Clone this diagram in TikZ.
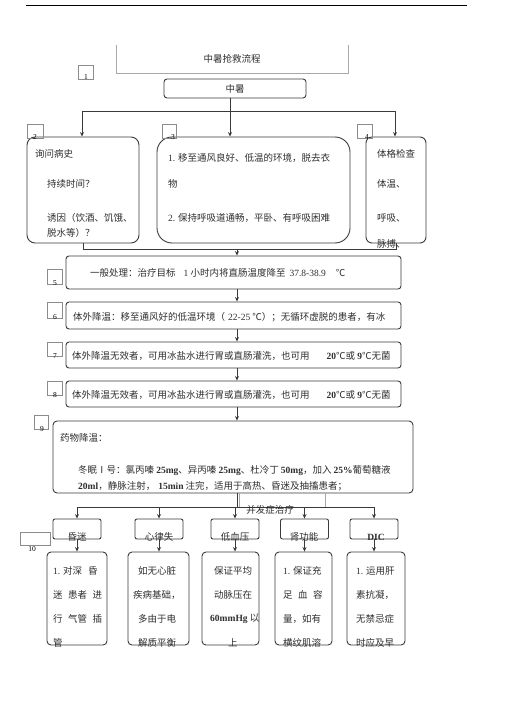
\documentclass[tikz,border=0pt]{standalone}
\usepackage{fontspec}
\setmainfont{Noto Sans CJK SC}
\newfontfamily\latfont{Liberation Serif}
\usetikzlibrary{arrows.meta}
\definecolor{boxline}{HTML}{3A3A3A}
\definecolor{paleline}{HTML}{A8A8A8}
\definecolor{numline}{HTML}{8C8C8C}
\definecolor{inkgray}{HTML}{2E2E2E}
\tikzset{
  box/.style={draw=boxline, line width=0.9pt, rounded corners=3pt, inner sep=0pt, text=inkgray},
  numbox/.style={draw=numline, line width=0.5pt, inner sep=0pt},
  numtxt/.style={inner sep=0pt, font=\latfont\fontsize{7.5}{8}\selectfont, text=black},
  txt/.style={inner sep=0pt, anchor=west, text=inkgray},
  txtc/.style={inner sep=0pt, text=inkgray},
  pale/.style={draw=paleline, line width=0.7pt},
  conn/.style={draw=boxline, line width=0.9pt},
  arr/.style={conn, -{Stealth[length=4.5pt,width=4pt]}},
}
\newcommand{\lat}[1]{{\latfont #1}}
\newcommand{\latb}[1]{{\latfont\bfseries #1}}
\begin{document}
\begin{tikzpicture}[x=1pt, y=-1pt, font=\fontsize{9.5}{11}\selectfont]
\useasboundingbox (0,0) rectangle (505,714);
\draw[line width=1pt] (26,6) -- (467,6);
% title and top box
\draw[pale] (116,45) |- (348,73) -- (348,45);
\node[txtc] (title) at (232,59) {中暑抢救流程};
\node[box, minimum width=142pt, minimum height=19pt] (zs) at (235,88.5) {中暑};
% first row
\node[box, rounded corners=8pt, minimum width=112pt, minimum height=106pt] (b2) at (83,190) {};
\node[box, rounded corners=15pt, minimum width=193pt, minimum height=106pt] (b3) at (253.5,190) {};
\node[box, rounded corners=6pt, minimum width=60pt, minimum height=106pt] (b4) at (396,190) {};
\node[txt] (t2a) at (35,154) {询问病史};
\node[txt] (t2b) at (47,184) {持续时间？};
\node[txt] (t2c) at (47,218) {诱因（饮酒、饥饿、};
\node[txt] (t2d) at (47,233) {脱水等）？};
\node[txt] (t3a) at (168,158) {\lat{1.} 移至通风良好、低温的环境，脱去衣};
\node[txt] (t3b) at (168,184) {物};
\node[txt] (t3c) at (168,218) {\lat{2.} 保持呼吸道通畅，平卧、有呼吸困难};
\node[txt] (t4a) at (377,154) {体格检查};
\node[txt] (t4b) at (377,184) {体温、};
\node[txt] (t4c) at (377,218) {呼吸、};
\node[txt] (t4d) at (377,244) {脉搏、};
% main column
\node[box, minimum width=335pt, minimum height=33pt] (b5) at (233.5,272.5) {};
\node[box, minimum width=335pt, minimum height=27pt] (b6) at (233.5,315.5) {};
\node[box, minimum width=335pt, minimum height=26pt] (b7) at (233.5,355) {};
\node[box, minimum width=335pt, minimum height=26pt] (b8) at (233.5,394) {};
\node[box, rounded corners=4pt, minimum width=360pt, minimum height=72pt] (b9) at (233,457) {};
\node[txt] (t5) at (90,273) {一般处理：治疗目标\hspace{8pt}\lat{1} 小时内将直肠温度降至\hspace{4pt}\lat{37.8-38.9}\hspace{10pt}℃};
\node[txt] (t6) at (73,317) {体外降温：移至通风好的低温环境（\hspace{3pt}\lat{22-25} ℃）；无循环虚脱的患者，有冰};
\node[txt] (t7) at (72,356) {体外降温无效者，可用冰盐水进行胃或直肠灌洗，也可用\hspace{17pt}\latb{20}℃或 \latb{9}℃无菌};
\node[txt] (t8) at (72,395) {体外降温无效者，可用冰盐水进行胃或直肠灌洗，也可用\hspace{17pt}\latb{20}℃或 \latb{9}℃无菌};
\node[txt] (t9a) at (60,438) {药物降温：};
\node[txt] (t9b) at (78,471) {冬眠Ⅰ号：氯丙嗪 \latb{25mg}、异丙嗪 \latb{25mg}、杜冷丁 \latb{50mg}，加入 \latb{25\%}葡萄糖液};
\node[txt] (t9c) at (78,486) {\latb{20ml}，静脉注射，\hspace{3pt}\latb{15min} 注完，适用于高热、昏迷及抽搐患者；};
% complications
\node[box, rounded corners=2pt, minimum width=48pt, minimum height=20pt] (s1) at (77,529) {};
\node[box, rounded corners=2pt, minimum width=48pt, minimum height=20pt] (s2) at (159,529) {};
\node[box, rounded corners=2pt, minimum width=48pt, minimum height=20pt] (s3) at (235,529) {};
\node[box, rounded corners=2pt, minimum width=48pt, minimum height=20pt] (s4) at (304.5,529) {};
\node[box, rounded corners=2pt, minimum width=48pt, minimum height=20pt] (s5) at (374,529) {};
\node[txtc] (ts1) at (77,537) {昏迷};
\node[txtc] (ts2) at (159,537) {心律失};
\node[txtc] (ts3) at (235,537) {低血压};
\node[txtc] (ts4) at (304,537) {肾功能};
\node[txtc] (ts5) at (376,537) {\latb{DIC}};
\node[box, rounded corners=4pt, minimum width=60pt, minimum height=93pt] (c1) at (77,598.5) {};
\node[box, rounded corners=4pt, minimum width=61pt, minimum height=93pt] (c2) at (158.5,598.5) {};
\node[box, rounded corners=4pt, minimum width=57pt, minimum height=93pt] (c3) at (230.5,598.5) {};
\node[box, rounded corners=4pt, minimum width=57pt, minimum height=93pt] (c4) at (303.5,598.5) {};
\node[box, rounded corners=4pt, minimum width=58pt, minimum height=93pt] (c5) at (376,598.5) {};
\node[txt] (tc1a) at (53,571) {\lat{1.} 对深\hspace{6pt}昏};
\node[txt] (tc1b) at (53,595) {迷\hspace{5.5pt}患者\hspace{5.5pt}进};
\node[txt] (tc1c) at (53,619) {行\hspace{5.5pt}气管\hspace{5.5pt}插};
\node[txt] (tc1d) at (53,643) {管};
\node[txt] (tc2a) at (138,571) {如无心脏};
\node[txt] (tc2b) at (133,595) {疾病基础，};
\node[txt] (tc2c) at (138,619) {多由于电};
\node[txt] (tc2d) at (138,643) {解质平衡};
\node[txt] (tc3a) at (214,571) {保证平均};
\node[txt] (tc3b) at (214,595) {动脉压在};
\node[txt] (tc3c) at (210,619) {\latb{60mmHg} 以};
\node[txt] (tc3d) at (228,643) {上};
\node[txt] (tc4a) at (283,571) {\lat{1.} 保证充};
\node[txt] (tc4b) at (283,595) {足\hspace{5.5pt}血\hspace{5.5pt}容};
\node[txt] (tc4c) at (283,619) {量，如有};
\node[txt] (tc4d) at (283,643) {横纹肌溶};
\node[txt] (tc5a) at (356,571) {\lat{1.} 运用肝};
\node[txt] (tc5b) at (356,595) {素抗凝，};
\node[txt] (tc5c) at (356,619) {无禁忌症};
\node[txt] (tc5d) at (356,643) {时应及早};
% number boxes
\node[numbox, minimum width=15pt, minimum height=14pt] (n1) at (85.5,72) {};
\node[numbox, minimum width=16pt, minimum height=14pt] (n2) at (35,131) {};
\node[numbox, minimum width=14pt, minimum height=14pt] (n3) at (169,131) {};
\node[numbox, minimum width=15pt, minimum height=14pt] (n4) at (364.5,131) {};
\node[numbox, minimum width=15pt, minimum height=15pt] (n5) at (54.5,276.5) {};
\node[numbox, minimum width=15pt, minimum height=16pt] (n6) at (54.5,310) {};
\node[numbox, minimum width=15pt, minimum height=14pt] (n7) at (54.5,349) {};
\node[numbox, minimum width=15pt, minimum height=14pt] (n8) at (54.5,388) {};
\node[numbox, minimum width=14pt, minimum height=14pt] (n9) at (41,422) {};
\node[numbox, minimum width=30pt, minimum height=13pt] (n10) at (35,538.5) {};
\node[numtxt] (l1) at (86,77.5) {1};
\node[numtxt] (l2) at (35,137.5) {2};
\node[numtxt] (l3) at (173,137.5) {3};
\node[numtxt] (l4) at (367,137.5) {4};
\node[numtxt] (l5) at (55,283.5) {5};
\node[numtxt] (l6) at (55,317.5) {6};
\node[numtxt] (l7) at (55,356) {7};
\node[numtxt] (l8) at (55,395) {8};
\node[numtxt] (l9) at (42,429.5) {9};
\node[numtxt] (l10) at (32,549) {10};
% connectors
\coordinate (top) at (230,111);
\coordinate (jL) at (82,111);
\coordinate (jR) at (395,111);
\draw[conn] (zs.south -| top) -- (top);
\draw[conn] (jL) -- (jR);
\draw[arr] (jL) -- (jL |- b2.north);
\draw[arr] (top) -- (top |- b3.north);
\draw[arr] (jR) -- (jR |- b4.north);
\coordinate (kR) at (396,249);
\coordinate (km) at (237,249);
\draw[conn] (b2.south) |- (kR) -- (b4.south);
\draw[arr] (km) -- (km |- b5.north);
\draw[arr] (km |- b5.south) -- (km |- b6.north);
\draw[arr] (km |- b6.south) -- (km |- b7.north);
\draw[arr] (km |- b7.south) -- (km |- b8.north);
\draw[arr] (km |- b8.south) -- (km |- b9.north);
\coordinate (fm) at (237,507);
\draw[pale] (239,493) |- (325,507) -- (325,493);
\draw[conn] (km |- b9.south) -- (fm);
\draw[conn] (s1.north |- fm) -- (s5.north |- fm);
\draw[arr] (s1.north |- fm) -- (s1.north);
\draw[arr] (s2.north |- fm) -- (s2.north);
\draw[arr] (s3.north |- fm) -- (s3.north);
\draw[arr] (s4.north |- fm) -- (s4.north);
\draw[arr] (s5.north |- fm) -- (s5.north);
\node[txtc] (bf) at (270,510) {并发症治疗};
\draw[arr] (s1.south) -- (s1.south |- c1.north);
\draw[arr] (s2.south) -- (s2.south |- c2.north);
\draw[arr] (s3.south) -- (s3.south |- c3.north);
\draw[arr] (s4.south) -- (s4.south |- c4.north);
\draw[arr] (s5.south) -- (s5.south |- c5.north);
\end{tikzpicture}
\end{document}
